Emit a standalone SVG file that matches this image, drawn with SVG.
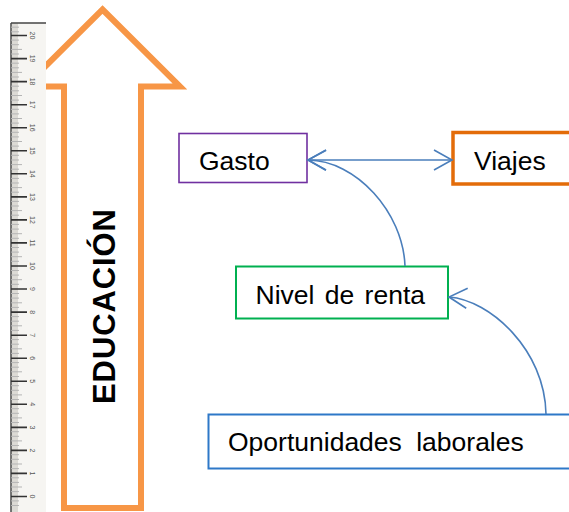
<svg xmlns="http://www.w3.org/2000/svg" width="569" height="512" viewBox="0 0 569 512">
<defs>
<style>
.lbl{font-family:"Liberation Sans",Arial,sans-serif;font-size:26.5px;fill:#000}
.con{fill:none;stroke:#4A7EBB;stroke-width:1.6}
.maj{stroke:#333;stroke-width:1.6}
.min{stroke:#b5b5b5;stroke-width:1}
.num{font-family:"Liberation Sans",Arial,sans-serif;font-size:7px;fill:#555}
</style>
<marker id="open" markerUnits="userSpaceOnUse" markerWidth="24" markerHeight="24" viewBox="-20 -12 22 24" refX="0" refY="0" orient="auto-start-reverse">
<path d="M-18,-10 L0,0 L-18,10" fill="none" stroke="#4A7EBB" stroke-width="1.6"/>
</marker>
</defs>
<rect width="569" height="512" fill="#fff"/>

<g id="arrow-educacion">
<path d="M102.5,9.5 L180,86.5 L141,86.5 L141,508 L64,508 L64,86.5 L25,86.5 Z" fill="#fff" stroke="#F79646" stroke-width="6" stroke-linejoin="miter"/>
<text transform="translate(115,306.5) rotate(-90)" text-anchor="middle" font-family="'Liberation Sans',Arial,sans-serif" font-weight="bold" font-size="31" textLength="195" lengthAdjust="spacing" fill="#000">EDUCACIÓN</text>
</g>

<g id="ruler">
<rect x="11" y="23" width="35" height="489" fill="#f6f5f2"/>
<rect x="11" y="23" width="7" height="489" fill="#dcdad5"/>
<line x1="11" y1="23" x2="11" y2="512" stroke="#555" stroke-width="1.6"/>
<line x1="11" y1="23" x2="46" y2="23" stroke="#444" stroke-width="1.6"/>
<g id="ruler-minor">
<path class="min" d="M11,27.2h8M11,31.8h8M11,40.1h8M11,44.7h8M11,49.4h11M11,54h8M11,63.2h8M11,67.8h8M11,72.4h11M11,77h8M11,86.2h8M11,90.8h8M11,95.5h11M11,100.1h8M11,109.3h8M11,113.9h8M11,118.5h11M11,123.1h8M11,132.3h8M11,136.9h8M11,141.5h11M11,146.1h8M11,155.3h8M11,160h8M11,164.6h11M11,169.2h8M11,178.4h8M11,183h8M11,187.6h11M11,192.2h8M11,201.4h8M11,206h8M11,210.6h11M11,215.2h8M11,224.4h8M11,229.1h8M11,233.7h11M11,238.3h8M11,247.5h8M11,252.1h8M11,256.7h11M11,261.3h8M11,270.5h8M11,275.1h8M11,279.7h11M11,284.3h8M11,293.5h8M11,298.1h8M11,302.8h11M11,307.4h8M11,316.6h8M11,321.2h8M11,325.8h11M11,330.4h8M11,339.6h8M11,344.2h8M11,348.8h11M11,353.4h8M11,362.6h8M11,367.2h8M11,371.8h11M11,376.5h8M11,385.7h8M11,390.3h8M11,394.9h11M11,399.5h8M11,408.7h8M11,413.3h8M11,417.9h11M11,422.5h8M11,431.7h8M11,436.3h8M11,440.9h11M11,445.5h8M11,454.7h8M11,459.3h8M11,464h11M11,468.6h8M11,477.8h8M11,482.4h8M11,487h11M11,491.6h8M11,500.9h8M11,505.5h8"/>
</g>
<g id="ruler-major">
<path class="maj" d="M11,35.5h16M11,58.6h16M11,81.6h16M11,104.7h16M11,127.7h16M11,150.8h16M11,173.8h16M11,196.9h16M11,219.9h16M11,242.9h16M11,266h16M11,289h16M11,312.1h16M11,335.2h16M11,358.2h16M11,381.3h16M11,404.3h16M11,427.4h16M11,450.4h16M11,473.4h16M11,496.5h16"/>
</g>
<g id="ruler-numbers" class="num" text-anchor="middle">
<text transform="translate(30,35.5) rotate(90)">20</text>
<text transform="translate(30,58.6) rotate(90)">19</text>
<text transform="translate(30,81.6) rotate(90)">18</text>
<text transform="translate(30,104.7) rotate(90)">17</text>
<text transform="translate(30,127.7) rotate(90)">16</text>
<text transform="translate(30,150.8) rotate(90)">15</text>
<text transform="translate(30,173.8) rotate(90)">14</text>
<text transform="translate(30,196.9) rotate(90)">13</text>
<text transform="translate(30,219.9) rotate(90)">12</text>
<text transform="translate(30,242.9) rotate(90)">11</text>
<text transform="translate(30,266) rotate(90)">10</text>
<text transform="translate(30,289) rotate(90)">9</text>
<text transform="translate(30,312.1) rotate(90)">8</text>
<text transform="translate(30,335.2) rotate(90)">7</text>
<text transform="translate(30,358.2) rotate(90)">6</text>
<text transform="translate(30,381.3) rotate(90)">5</text>
<text transform="translate(30,404.3) rotate(90)">4</text>
<text transform="translate(30,427.4) rotate(90)">3</text>
<text transform="translate(30,450.4) rotate(90)">2</text>
<text transform="translate(30,473.4) rotate(90)">1</text>
<text transform="translate(30,496.5) rotate(90)">0</text>
</g>
</g>

<g id="node-gasto">
<rect x="179" y="133.5" width="128" height="49" fill="#fff" stroke="#7030A0" stroke-width="1.6"/>
<text class="lbl" x="199" y="170">Gasto</text>
</g>

<g id="node-viajes">
<rect x="453" y="132.5" width="130" height="51.5" fill="#fff" stroke="#E36C09" stroke-width="3.5"/>
<text class="lbl" x="474" y="170">Viajes</text>
</g>

<g id="node-nivel">
<rect x="236" y="266.5" width="212" height="52" fill="#fff" stroke="#00B050" stroke-width="2"/>
<text class="lbl" x="255.5" y="304" word-spacing="3">Nivel de renta</text>
</g>

<g id="node-oportunidades">
<rect x="208.5" y="414.5" width="375" height="54" fill="#fff" stroke="#2E78C8" stroke-width="2"/>
<text class="lbl" x="228" y="451" word-spacing="7">Oportunidades laborales</text>
</g>

<g id="connectors">
<path class="con" d="M308,160 L452,160" marker-start="url(#open)" marker-end="url(#open)"/>
<path class="con" d="M405,266 C403,212 356,160.5 308,160" marker-end="url(#open)"/>
<path class="con" d="M546,414 C545,350 490,300 449,297" marker-end="url(#open)"/>
</g>
</svg>
